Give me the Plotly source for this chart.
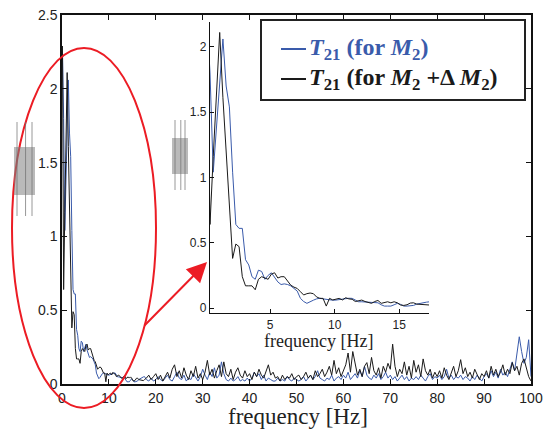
import plotly.graph_objects as go

# ---------------- data ----------------
freq_low = [round(0.1 + 0.25 * k, 2) for k in range(71)]      # 0.10 ... 17.60 Hz
freq_high = [round(18 + 0.5 * k, 1) for k in range(165)]      # 18.0 ... 100.0 Hz

black_low = [2.29, 0.64, 1.16, 1.68, 2.11, 1.61, 1.19, 0.77, 0.38, 0.49,
             0.47, 0.24, 0.17, 0.17, 0.17, 0.14, 0.22, 0.24, 0.23, 0.22,
             0.26, 0.27, 0.23, 0.24, 0.24, 0.21, 0.175, 0.16, 0.15, 0.125,
             0.10, 0.11, 0.115, 0.11, 0.085, 0.074, 0.074, 0.015, 0.074, 0.062,
             0.07, 0.074, 0.062, 0.079, 0.07, 0.067, 0.05, 0.055, 0.061, 0.05,
             0.045, 0.036, 0.05, 0.058, 0.036, 0.045, 0.048, 0.04, 0.048, 0.04,
             0.023, 0.02, 0.025, 0.038, 0.04, 0.03, 0.028, 0.028, 0.025, 0.023,
             0.03]
blue_low = [2.25, 1.80, 1.04, 1.38, 1.72, 2.06, 1.70, 1.54, 1.04, 0.64,
            0.61, 0.61, 0.37, 0.33, 0.24, 0.22, 0.29, 0.28, 0.22, 0.25,
            0.27, 0.23, 0.20, 0.18, 0.185, 0.18, 0.17, 0.15, 0.13, 0.074,
            0.05, 0.036, 0.045, 0.06, 0.07, 0.075, 0.07, 0.065, 0.061, 0.06,
            0.061, 0.065, 0.07, 0.074, 0.075, 0.074, 0.06, 0.048, 0.048, 0.047,
            0.048, 0.045, 0.042, 0.04, 0.025, 0.015, 0.015, 0.015, 0.025, 0.036,
            0.028, 0.015, 0.015, 0.015, 0.02, 0.03, 0.036, 0.04, 0.045, 0.048,
            0.05]
black_high = [0.04, 0.06, 0.03, 0.05, 0.07,
              0.03, 0.06, 0.02, 0.05, 0.08, 0.04, 0.10, 0.13, 0.05, 0.09,
              0.04, 0.11, 0.06, 0.03, 0.09, 0.05, 0.12, 0.04, 0.07, 0.03,
              0.08, 0.16, 0.06, 0.10, 0.04, 0.09, 0.13, 0.05, 0.15, 0.07,
              0.05, 0.10, 0.03, 0.08, 0.11, 0.06, 0.04, 0.09, 0.05, 0.07,
              0.03, 0.08, 0.05, 0.10, 0.06, 0.04, 0.09, 0.13, 0.06, 0.08,
              0.04, 0.05, 0.02, 0.06, 0.03, 0.05, 0.04, 0.07, 0.03, 0.05,
              0.06, 0.03, 0.05, 0.08, 0.04, 0.06, 0.03, 0.09, 0.05, 0.07,
              0.10, 0.05, 0.08, 0.12, 0.06, 0.16, 0.07, 0.11, 0.05, 0.09,
              0.13, 0.21, 0.08, 0.22, 0.14, 0.06, 0.10, 0.05, 0.12, 0.145,
              0.07, 0.18, 0.09, 0.06, 0.11, 0.04, 0.12, 0.08, 0.14, 0.10,
              0.27, 0.12, 0.05, 0.10, 0.07, 0.15, 0.06, 0.12, 0.04, 0.16,
              0.08, 0.13, 0.05, 0.17, 0.09, 0.06, 0.10, 0.04, 0.08, 0.05,
              0.09, 0.04, 0.11, 0.06, 0.03, 0.08, 0.12, 0.05, 0.09, 0.165,
              0.07, 0.11, 0.05, 0.08, 0.04, 0.10, 0.06, 0.03, 0.07, 0.05,
              0.09, 0.04, 0.12, 0.06, 0.10, 0.05, 0.08, 0.13, 0.06, 0.10,
              0.07, 0.145, 0.09, 0.12, 0.06, 0.14, 0.17, 0.10, 0.05, 0.02]
blue_high = [0.03, 0.02, 0.04, 0.02, 0.03,
             0.05, 0.03, 0.02, 0.04, 0.06, 0.03, 0.02, 0.05, 0.08, 0.04,
             0.03, 0.06, 0.02, 0.04, 0.03, 0.07, 0.04, 0.02, 0.05, 0.10,
             0.06, 0.03, 0.08, 0.05, 0.11, 0.04, 0.06, 0.15, 0.07, 0.03,
             0.02, 0.04, 0.02, 0.03, 0.05, 0.02, 0.03, 0.02, 0.04, 0.02,
             0.04, 0.08, 0.05, 0.07, 0.03, 0.06, 0.02, 0.04, 0.03, 0.02,
             0.02, 0.04, 0.02, 0.03, 0.02, 0.05, 0.03, 0.02, 0.04, 0.03,
             0.02, 0.03, 0.05, 0.02, 0.04, 0.06, 0.03, 0.05, 0.09, 0.04,
             0.03, 0.02, 0.04, 0.03, 0.06, 0.02, 0.04, 0.05, 0.03, 0.06,
             0.04, 0.08, 0.03, 0.05, 0.07, 0.04, 0.09, 0.05, 0.12, 0.06,
             0.04, 0.03, 0.06, 0.04, 0.07, 0.03, 0.05, 0.08, 0.04, 0.06,
             0.03, 0.05, 0.02, 0.04, 0.06, 0.03, 0.05, 0.02, 0.04, 0.03,
             0.05, 0.03, 0.06, 0.04, 0.02, 0.05, 0.07, 0.03, 0.05, 0.04,
             0.06, 0.03, 0.05, 0.10, 0.04, 0.06, 0.03, 0.05, 0.04, 0.06,
             0.03, 0.05, 0.04, 0.02, 0.05, 0.03, 0.06, 0.04, 0.02, 0.05,
             0.07, 0.04, 0.09, 0.05, 0.08, 0.04, 0.10, 0.06, 0.08, 0.05,
             0.10, 0.15, 0.09, 0.20, 0.32, 0.22, 0.14, 0.18, 0.30, 0.05]

freq = freq_low + freq_high
t21_m2 = blue_low + blue_high          # T21 (for M2)
t21_m2_dm = black_low + black_high     # T21 (for M2 + dM2)

main_xticks = [0, 10, 20, 30, 40, 50, 60, 70, 80, 90, 100]
main_yticks = [0, 0.5, 1, 1.5, 2, 2.5]
main_yticktext = ["0", "0.5", "1", "1.5", "2", "2.5"]
inset_xticks = [5, 10, 15]
inset_yticks = [0, 0.5, 1, 1.5, 2]
inset_yticktext = ["0", "0.5", "1", "1.5", "2"]

BLUE = "#3a5bab"
BLACK = "#1a1a1a"
RED = "#ec1c24"

# ---------------- layout helpers ----------------
W, H = 543, 430
L, R, T, B = 62, 531, 15, 384          # plot area in pixels


def PX(px):
    return (px - L) / (R - L)


def PY(py):
    return (B - py) / (B - T)


fig = go.Figure()
for xa, ya in (("x", "y"), ("x2", "y2")):
    fig.add_trace(go.Scatter(x=freq, y=t21_m2, mode="lines", xaxis=xa, yaxis=ya,
                             line=dict(color=BLUE, width=1), showlegend=False,
                             name="T21 (for M2)"))
    fig.add_trace(go.Scatter(x=freq, y=t21_m2_dm, mode="lines", xaxis=xa, yaxis=ya,
                             line=dict(color=BLACK, width=1), showlegend=False,
                             name="T21 (for M2 + dM2)"))

tickfont_main = dict(family="Liberation Sans, Arial", size=14, color="#222")
tickfont_inset = dict(family="Liberation Sans, Arial", size=12, color="#222")

common = dict(showgrid=False, zeroline=False, automargin=False, tickcolor="#111",
              linecolor="#111", showline=True, tickwidth=1, ticklabeloverflow="allow")

fig.update_layout(
    width=W, height=H,
    margin=dict(l=L, r=W - R, t=T, b=H - B),
    paper_bgcolor="white", plot_bgcolor="white",
    xaxis=dict(domain=[0, 1], range=[0, 100], tickvals=main_xticks,
               ticks="inside", ticklen=5, linewidth=1.5, mirror="ticks",
               tickfont=tickfont_main, **common),
    yaxis=dict(domain=[0, 1], range=[0, 2.5], tickvals=main_yticks,
               ticktext=main_yticktext, ticks="inside", ticklen=5,
               linewidth=1.5, mirror="ticks", tickfont=tickfont_main, **common),
    xaxis2=dict(domain=[PX(210), PX(429)], anchor="y2", range=[0.35, 17.3],
                tickvals=inset_xticks, ticks="inside", ticklen=4, linewidth=1.2,
                tickfont=tickfont_inset, **common),
    yaxis2=dict(domain=[PY(313), PY(22)], anchor="x2", range=[-0.038, 2.19],
                tickvals=inset_yticks, ticktext=inset_yticktext,
                ticks="inside", ticklen=4, linewidth=1.2,
                tickfont=tickfont_inset, **common),
)

shapes = []
# red ellipse
shapes.append(dict(type="circle", xref="paper", yref="paper",
                   x0=PX(12), x1=PX(156), y0=PY(408), y1=PY(48),
                   line=dict(color=RED, width=2)))
# gray artifacts (small embedded waveform thumbnails)
for (x0, x1, y0, y1, wy0, wy1) in ((14, 35, 147, 195, 122, 216), (172, 188, 138, 174, 120, 190)):
    shapes.append(dict(type="rect", xref="paper", yref="paper",
                       x0=PX(x0), x1=PX(x1), y0=PY(y1), y1=PY(y0),
                       line=dict(width=0), fillcolor="rgba(130,130,130,0.55)"))
    for xx in (x0 + 3, x0 + (x1 - x0) * 0.55, x1 - 3):
        shapes.append(dict(type="line", xref="paper", yref="paper",
                           x0=PX(xx), x1=PX(xx), y0=PY(wy1), y1=PY(wy0),
                           line=dict(color="rgba(110,110,110,0.7)", width=1)))
# legend box
shapes.append(dict(type="rect", xref="paper", yref="paper", layer="above",
                   x0=PX(261), x1=PX(525), y0=PY(100), y1=PY(20),
                   line=dict(color="#222", width=2), fillcolor="white"))
shapes.append(dict(type="line", xref="paper", yref="paper", layer="above",
                   x0=PX(281), x1=PX(306), y0=PY(49), y1=PY(49),
                   line=dict(color=BLUE, width=2)))
shapes.append(dict(type="line", xref="paper", yref="paper", layer="above",
                   x0=PX(281), x1=PX(306), y0=PY(79), y1=PY(79),
                   line=dict(color=BLACK, width=2)))

serif = "Liberation Serif, Times New Roman, serif"
annotations = [
    dict(xref="paper", yref="paper", x=PX(307), y=PY(49), xanchor="left", yanchor="middle",
         text="<b><i>T</i><sub>21</sub> (for <i>M</i><sub>2</sub>)</b>", showarrow=False,
         font=dict(family=serif, size=24, color=BLUE)),
    dict(xref="paper", yref="paper", x=PX(307), y=PY(79), xanchor="left", yanchor="middle",
         text="<b><i>T</i><sub>21</sub> (for <i>M</i><sub>2</sub> +Δ <i>M</i><sub>2</sub>)</b>",
         showarrow=False, font=dict(family=serif, size=24, color=BLACK)),
    dict(xref="paper", yref="paper", x=PX(298), y=PY(416), xanchor="center", yanchor="middle",
         text="frequency [Hz]", showarrow=False, font=dict(family=serif, size=23, color="#222")),
    dict(xref="paper", yref="paper", x=PX(318), y=PY(341), xanchor="center", yanchor="middle",
         text="frequency [Hz]", showarrow=False, font=dict(family=serif, size=18, color="#222")),
    dict(xref="paper", yref="paper", x=PX(207), y=PY(262), ax=-64, ay=65, text="",
         showarrow=True, arrowhead=2, arrowsize=2, arrowwidth=2, arrowcolor=RED, standoff=0),
]
fig.update_layout(shapes=shapes, annotations=annotations)

fig.write_html("out.html",
               config={"displayModeBar": False},
               post_script="document.body.style.margin='0px';"
                           "document.body.style.overflow='hidden';")
